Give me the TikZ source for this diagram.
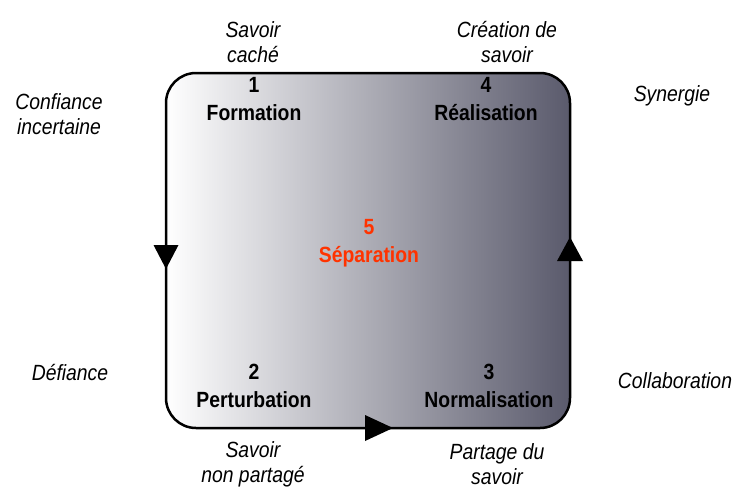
\documentclass[tikz,border=0pt]{standalone}
\usepackage{fontspec}
\setmainfont{Liberation Sans}[FakeStretch=0.88]
\definecolor{boxdark}{HTML}{5A5A6C}
\definecolor{phasered}{HTML}{FF3300}
\begin{document}
\begin{tikzpicture}[x=1pt,y=-1pt,
  lbl/.style={font=\fontsize{22}{25}\selectfont\itshape, align=center, inner sep=0pt},
  phase/.style={font=\fontsize{22}{28}\selectfont\bfseries, align=center, inner sep=0pt},
  tri/.style={fill=black}]
\useasboundingbox (0,0) rectangle (734,488);
% box
\coordinate (tl) at (166,73);
\coordinate (br) at (570,428);
\shade[left color=white, right color=boxdark, rounded corners=30pt]
  (tl) rectangle (br);
\draw[line width=2.5pt, rounded corners=30pt] (tl) rectangle (br);
% arrowheads (yshift is positive upwards on the page)
\coordinate (aL) at (166,257);
\coordinate (aR) at (570,249);
\coordinate (aB) at (379,428);
\fill[tri] ([xshift=-12.5pt,yshift=12pt]aL) -- ([xshift=12.5pt,yshift=12pt]aL) -- ([yshift=-12pt]aL) -- cycle;
\fill[tri] ([xshift=-13pt,yshift=-12pt]aR) -- ([xshift=13pt,yshift=-12pt]aR) -- ([yshift=12pt]aR) -- cycle;
\fill[tri] ([xshift=-14pt,yshift=-13pt]aB) -- ([xshift=-14pt,yshift=13pt]aB) -- ([xshift=14pt]aB) -- cycle;
% phases
\node[phase] (p1) at (254,99) {1\\Formation};
\node[phase] (p4) at (486,99) {4\\Réalisation};
\node[phase, text=phasered] (p5) at (369,243) {5\\Séparation};
\node[phase] (p2) at (254,386) {2\\Perturbation};
\node[phase] (p3) at (489,386) {3\\Normalisation};
% outer labels
\node[lbl] (l1) at (253,42) {Savoir\\caché};
\node[lbl] (l2) at (507,42) {Création de\\savoir};
\node[lbl] (l3) at (59,114) {Confiance\\incertaine};
\node[lbl] (l4) at (672,96) {Synergie};
\node[lbl] (l5) at (70,373) {Défiance};
\node[lbl] (l6) at (675,381) {Collaboration};
\node[lbl] (l7) at (253,464) {Savoir\\non partagé};
\node[lbl] (l8) at (497,464) {Partage du\\savoir};
\end{tikzpicture}
\end{document}
